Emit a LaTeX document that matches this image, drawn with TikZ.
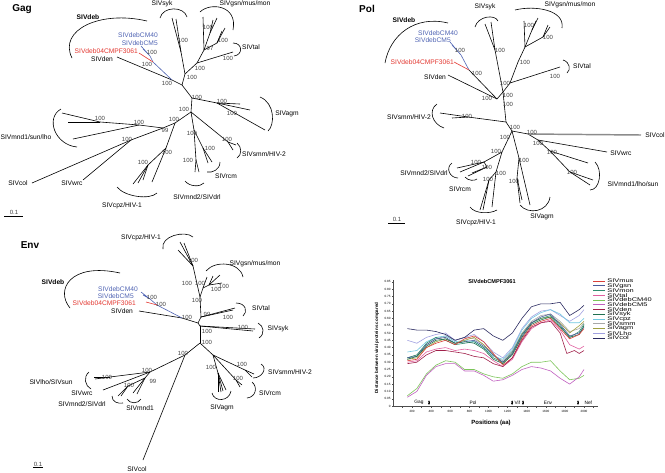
\documentclass[tikz,border=0pt]{standalone}
\usepackage{fontspec}
\setmainfont{Liberation Sans}
\usetikzlibrary{arrows.meta}

\definecolor{debblue}{HTML}{4F63B3}
\definecolor{debred}{HTML}{E2352E}
\definecolor{cmus}{HTML}{D9403A}
\definecolor{cgsn}{HTML}{4A5A9A}
\definecolor{cmon}{HTML}{2E8B6E}
\definecolor{ctal}{HTML}{E060A0}
\definecolor{ccma}{HTML}{7CC45A}
\definecolor{ccmb}{HTML}{C060C0}
\definecolor{cden}{HTML}{A0204A}
\definecolor{csyk}{HTML}{207050}
\definecolor{ccpz}{HTML}{70C8E0}
\definecolor{csmm}{HTML}{A8A8A8}
\definecolor{cagm}{HTML}{A0A040}
\definecolor{clho}{HTML}{A0A0E0}
\definecolor{ccol}{HTML}{2A2A60}

\tikzset{
  br/.style={line width=0.45pt},
  clade/.style={line width=0.45pt},
  lf/.style={font=\fontsize{5}{5}\selectfont, inner sep=0pt},
  lfb/.style={font=\fontsize{5}{5}\selectfont\bfseries, inner sep=0pt},
  bs/.style={font=\fontsize{4.5}{4.5}\selectfont, inner sep=0pt, text=black!75},
  hd/.style={font=\fontsize{7.5}{7.5}\selectfont\bfseries, inner sep=0pt},
  tk/.style={font=\fontsize{2.3}{2.3}\selectfont, inner sep=0.6pt},
  gn/.style={font=\fontsize{3.6}{3.6}\selectfont, inner sep=0pt},
  curve/.style={line width=0.45pt},
  mk/.style={line width=0.35pt,{Latex[length=1.6pt,width=1.6pt]}-{Latex[length=1.6pt,width=1.6pt]}}
}

\begin{document}
\begin{tikzpicture}[x=0.75pt,y=-0.75pt]
\useasboundingbox (0,0) rectangle (665,472);

% Gag
\node[hd] (gagT) at (22,9) {Gag};
\foreach \n/\x/\y in {g0/182/85,gCMa/141/46,gCMb/143/49,gcm/150/56,gred/139/53,gdb/153/62,gdn/172/80,gden/117/57,
  gu1/185/74,gsk/181/52,gsk1/172/18,gsk2/176/19,gu2/197/63,gtal/233/52,gu3/204/50,ggs1/203/17,ggsA/210/33,ggs2/213/20,
  ggs3/217/18,ggsB/217/43,ggs4/225/28,ggs5/222/31,gb/192/98,gag/217/103,gag1/240/104,gag2/250/110,gag3/265/130,
  gc/191/112,gd/175/123,ge/163/128,gmn/139/125,gsn/100/122,gsn1/62/113,gsn2/68/122,gmn1/73/139,gw/131/140,
  gcol/32/183,gwrc/83/180,gcz/166/148,gcz1/152/182,gczm/148/165,gcz2/133/184,gcz3/138/183,gcz4/143/180,
  gm2/194/130,gm2n/196/160,gm21/195/172,gm22/199/172,grc/203/148,grc1/208/163,grc2/212/162,gsm/228/142,gsm1/236/145,gsm2/233/150}
  \coordinate (\n) at (\x,\y);
\foreach \a/\b in {g0/gdn,gden/gdn,g0/gu1,gu1/gsk,gsk/gsk1,gsk/gsk2,gu1/gu2,gu2/gtal,gu2/gu3,gu3/ggs1,gu3/ggsA,ggsA/ggs2,
  ggsA/ggs3,gu3/ggsB,ggsB/ggs4,ggsB/ggs5,g0/gb,gb/gag,gag/gag1,gag/gag2,gag/gag3,gb/gc,gc/gd,gd/ge,ge/gmn,gmn/gsn,
  gsn/gsn1,gsn/gsn2,gmn/gmn1,ge/gw,gw/gcol,gw/gwrc,gd/gcz,gcz/gcz1,gcz/gczm,gczm/gcz2,gczm/gcz3,gczm/gcz4,gc/gm2,
  gm2/gm2n,gm2n/gm21,gm2n/gm22,gm2/grc,grc/grc1,grc/grc2,gc/gsm,gsm/gsm1,gsm/gsm2}
  \draw[br] (\a) -- (\b);
\draw[br,debblue] (gCMa) -- (gcm) (gCMb) -- (gcm) (gcm) -- (gdb) -- (gdn);
\draw[br,debred] (gred) -- (gdb);
\foreach \x/\y/\v [count=\i] in {152/52/100,147/64/100,167/83/100,183/40/100,208/27/100,223/40/100,210/48/97,228/58/100,
  200/68/100,192/77/100,197/97/100,222/101/100,232/113/100,184/109/100,174/119/100,165/130/99,139/122/100,100/118/100,
  127/139/100,143/162/100,167/152/100,192/133/100,188/160/100,210/148/100,227/139/100}
  \node[bs] (gbs\i) at (\x,\y) {\v};
\node[lf] (gsykL) at (162,4) {SIVsyk};
\node[lf] (ggsnL) at (245,4) {SIVgsn/mus/mon};
\node[lf] (gtalL) at (251,47) {SIVtal};
\node[lf] (gagmL) at (287,114) {SIVagm};
\node[lf] (gsmmL) at (264,154) {SIVsmm/HIV-2};
\node[lf] (grcmL) at (226,176) {SIVrcm};
\node[lf] (gmndL) at (197,197) {SIVmnd2/SIVdrl};
\node[lf] (gcpzL) at (122,206) {SIVcpz/HIV-1};
\node[lf] (gcolL) at (18,183) {SIVcol};
\node[lf] (gwrcL) at (72,183) {SIVwrc};
\node[lf] (gsunL) at (26,137) {SIVmnd1/sun/lho};
\node[lf] (gdenL) at (102,59) {SIVden};
\node[lf,anchor=east,text=debred] (gredL) at (138,51) {SIVdeb04CMPF3061};
\node[lf,anchor=east,text=debblue] (gcmaL) at (158,35) {SIVdebCM40};
\node[lf,anchor=east,text=debblue] (gcmbL) at (158,43) {SIVdebCM5};
\node[lfb] (gdebL) at (88,17) {SIVdeb};
\draw[clade] (72,58) .. controls (58,30) and (100,10) .. (147,21);
\draw[clade] (160,18) .. controls (163,6) and (184,6) .. (187,17);
\draw[clade] (200,12) .. controls (210,2) and (238,5) .. (233,30);
\draw[clade] (233,43) .. controls (243,43) and (243,55) .. (234,56);
\draw[clade] (260,97) .. controls (275,103) and (275,125) .. (268,131);
\draw[clade] (237,143) .. controls (242,147) and (242,155) .. (237,158);
\draw[clade] (220,162) .. controls (220,170) and (212,173) .. (207,172);
\draw[clade] (185,181) .. controls (190,187) and (200,187) .. (204,183);
\draw[clade] (117,187) .. controls (125,197) and (150,200) .. (157,193);
\draw[clade] (61,109) .. controls (45,118) and (55,145) .. (77,147);
\draw[br] (4,216) -- (23,216);
\node[bs] (gsc) at (14,212) {0.1};

% Pol
\node[hd] (polT) at (367,9) {Pol};
\foreach \n/\x/\y in {pCMa/450/42,pCMb/452/45,pcm/461/55,pred/454/62,pdb/469/70,pdn/497/99,pden/448/75,p1/503/92,
  psk/495/50,psk1/485/24,psk2/491/22,pg/510/83,ptal/560/67,pgs/518/62,pgA/525/47,pgs1/524/21,pgB/532/30,pgs2/538/18,
  pgs3/536/21,pgC/543/37,pgs4/550/27,pgs5/548/25,p2/506/122,psm/468/117,psm1/440/113,psm2/452/118,p3/512/131,
  pcw/528/134,pcol/641/135,pw/538/140,pwrc/607/152,pmn/550/151,pmn1/588/163,pmn2/570/172,pmn3/593/180,pmn4/590/185,
  p4/502/152,pmr/484/162,pm21/457/168,pm22/460/172,prc/487/167,prc1/472/173,prc2/468/176,pcz/496/172,pcz1/492/207,
  pczm/489/180,pcz2/480/210,pcz3/483/210,pagm/519/158,pag2/517/178,pag1/522/200,pag3/520/203,pag4/530/205}
  \coordinate (\n) at (\x,\y);
\foreach \a/\b in {pden/pdn,pdb/pdn,pdn/p1,p1/psk,psk/psk1,psk/psk2,p1/pg,pg/ptal,pg/pgs,pgs/pgA,pgA/pgs1,pgA/pgB,
  pgB/pgs2,pgB/pgs3,pgA/pgC,pgC/pgs4,pgC/pgs5,p1/p2,p2/psm,psm/psm1,psm/psm2,p2/p3,p3/pcw,pcw/pw,pw/pwrc,pw/pmn,
  pmn/pmn1,pmn/pmn2,pmn2/pmn3,pmn2/pmn4,p3/p4,p4/pmr,pmr/pm21,pmr/pm22,pmr/prc,prc/prc1,prc/prc2,p4/pcz,pcz/pcz1,
  pcz/pczm,pczm/pcz2,pczm/pcz3,p3/pagm,pagm/pag2,pag2/pag1,pag2/pag3,pagm/pag4}
  \draw[br] (\a) -- (\b);
\draw[line width=1.1pt,black!45] (pcw) -- (pcol);
\draw[br,debblue] (pCMa) -- (pcm) (pCMb) -- (pcm) (pcm) -- (pdb);
\draw[br,debred] (pred) -- (pdb);
\foreach \x/\y/\v [count=\i] in {460/50/100,477/73/100,487/98/100,500/50/100,505/83/100,525/62/100,529/25/100,548/37/100,
  555/76/100,508/95/100,508/104/100,467/116/100,515/127/100,505/137/100,532/132/100,538/143/100,552/152/100,572/172/100,
  496/151/100,476/162/100,487/167/100,501/173/100,488/179/100,524/160/100,514/181/100}
  \node[bs] (pbs\i) at (\x,\y) {\v};
\node[lf] (psykL) at (485,7) {SIVsyk};
\node[lf] (pgsnL) at (570,5) {SIVgsn/mus/mon};
\node[lf] (ptalL) at (582,66) {SIVtal};
\node[lf] (psmmL) at (409,117) {SIVsmm/HIV-2};
\node[lf] (pcolL) at (655,135) {SIVcol};
\node[lf] (pwrcL) at (621,153) {SIVwrc};
\node[lf] (pmn1L) at (633,184) {SIVmnd1/lho/sun};
\node[lf] (pmn2L) at (424,173) {SIVmnd2/SIVdrl};
\node[lf] (prcmL) at (460,189) {SIVrcm};
\node[lf] (pcpzL) at (476,223) {SIVcpz/HIV-1};
\node[lf] (pagmL) at (542,217) {SIVagm};
\node[lf] (pdenL) at (435,77) {SIVden};
\node[lf,anchor=east,text=debred] (predL) at (454,62) {SIVdeb04CMPF3061};
\node[lf,anchor=east,text=debblue] (pcmaL) at (458,33) {SIVdebCM40};
\node[lf,anchor=east,text=debblue] (pcmbL) at (451,40) {SIVdebCM5};
\node[lfb] (pdebL) at (404,20) {SIVdeb};
\draw[clade] (385,63) .. controls (390,35) and (415,15) .. (448,23);
\draw[clade] (475,27) .. controls (478,16) and (495,14) .. (498,21);
\draw[clade] (515,10) .. controls (535,5) and (565,10) .. (562,28);
\draw[clade] (563,60) .. controls (570,62) and (571,70) .. (567,73);
\draw[clade] (437,104) .. controls (428,110) and (432,124) .. (444,128);
\draw[clade] (452,163) .. controls (445,168) and (450,178) .. (458,178);
\draw[clade] (465,177) .. controls (468,181) and (475,181) .. (477,179);
\draw[clade] (470,207) .. controls (475,214) and (490,214) .. (497,210);
\draw[clade] (520,205) .. controls (528,215) and (548,212) .. (550,197);
\draw[clade] (595,162) .. controls (603,170) and (600,190) .. (590,190);
\draw[br] (388,223) -- (405,223);
\node[bs] (psc) at (397,219) {0.1};

% Env
\node[hd] (envT) at (30,245) {Env};
\foreach \n/\x/\y in {eCMa/141/292,eCMb/143/295,ecm/150/299,ered/146/302,edb/157/305,edn/182/318,eden/139/311,
  e0/198/323,ecg/200/297,ecz/193/266,ecz1/180/242,ecz2/184/243,ecz3/178/250,eg1/203/288,eg2/209/285,egs1/207/277,
  egs2/213/276,egs3/220/275,egs4/222/283,et/201/317,etal1/235/308,etal2/233/310,esk/200/326,esk1/255/329,esk2/253/331,
  e1/200/343,es/213/355,esm/245/370,esm1/252/377,esm2/254/374,erc/236/380,erc1/240/387,erc2/242/385,eag/218/373,
  eag1/218/392,eag2/221/392,eag3/223/391,eag4/226/390,ec/185/355,ecol/143/460,el/150/372,elh/110/377,elh1/95/379,
  elh2/94/377,ewrc/103/390,emn/145/378,em2/128/386,em21/118/396,em22/121/396,em11/133/393,em12/137/394}
  \coordinate (\n) at (\x,\y);
\foreach \a/\b in {eden/edn,edn/e0,e0/et,et/ecg,ecg/ecz,ecz/ecz1,ecz/ecz2,ecz/ecz3,ecg/eg1,eg1/egs1,eg1/eg2,eg2/egs2,
  eg2/egs3,eg2/egs4,et/etal1,et/etal2,e0/esk,esk/esk1,esk/esk2,esk/e1,e1/es,es/esm,esm/esm1,esm/esm2,es/erc,erc/erc1,
  erc/erc2,es/eag,eag/eag1,eag/eag2,eag/eag3,eag/eag4,e1/ec,ec/ecol,ec/el,el/elh,elh/elh1,elh/elh2,el/ewrc,el/emn,
  emn/em2,em2/em21,em2/em22,emn/em11,emn/em12}
  \draw[br] (\a) -- (\b);
\draw[br,debblue] (eCMa) -- (ecm) (eCMb) -- (ecm) (ecm) -- (edb) -- (edn);
\draw[br,debred] (ered) -- (edb);
\foreach \x/\y/\v [count=\i] in {152/297/100,161/304/100,187/317/100,193/260/100,187/283/100,200/283/100,216/289/100,
  224/286/100,197/300/100,207/314/99,228/317/100,243/327/100,207/331/100,207/342/100,183/353/100,211/367/100,
  242/364/100,238/378/100,147/370/100,153/381/99,107/377/100,129/385/100}
  \node[bs] (ebs\i) at (\x,\y) {\v};
\node[lf] (ecpzL) at (141,238) {SIVcpz/HIV-1};
\node[lf] (egsnL) at (255,264) {SIVgsn/mus/mon};
\node[lf] (etalL) at (261,308) {SIVtal};
\node[lf] (esykL) at (278,329) {SIVsyk};
\node[lf] (esmmL) at (290,372) {SIVsmm/HIV-2};
\node[lf] (ercmL) at (270,393) {SIVrcm};
\node[lf] (eagmL) at (222,408) {SIVagm};
\node[lf] (ecolL) at (137,469) {SIVcol};
\node[lf] (elhoL) at (51,382) {SIVlho/SIVsun};
\node[lf] (ewrcL) at (82,393) {SIVwrc};
\node[lf] (em2L) at (82,404) {SIVmnd2/SIVdrl};
\node[lf] (em1L) at (140,408) {SIVmnd1};
\node[lf] (edenL) at (122,311) {SIVden};
\node[lf,anchor=east,text=debred] (eredL) at (136,303) {SIVdeb04CMPF3061};
\node[lf,anchor=east,text=debblue] (ecmaL) at (138,289) {SIVdebCM40};
\node[lf,anchor=east,text=debblue] (ecmbL) at (134,296) {SIVdebCM5};
\node[lfb] (edebL) at (53,282) {SIVdeb};
\draw[clade] (70,308) .. controls (55,290) and (70,262) .. (120,273);
\draw[clade] (163,249) .. controls (160,236) and (185,230) .. (193,237);
\draw[clade] (206,271) .. controls (215,260) and (240,262) .. (243,277);
\draw[clade] (236,303) .. controls (246,303) and (248,312) .. (243,316);
\draw[clade] (258,323) .. controls (264,326) and (265,334) .. (259,338);
\draw[clade] (261,364) .. controls (268,368) and (262,378) .. (253,378);
\draw[clade] (252,382) .. controls (258,387) and (256,397) .. (247,398);
\draw[clade] (212,393) .. controls (214,402) and (229,402) .. (231,391);
\draw[clade] (89,372) .. controls (83,377) and (85,386) .. (91,389);
\draw[clade] (112,396) .. controls (112,402) and (118,404) .. (123,403);
\draw[clade] (127,399) .. controls (130,404) and (138,404) .. (141,399);
\draw[br] (33,467) -- (43,467);
\node[bs] (esc) at (38,464) {0.1};

% similarity plot
\node[font=\fontsize{4.2}{4.2}\selectfont\bfseries, inner sep=0pt] (ptitle) at (492,281) {SIVdebCMPF3061};
\node[font=\fontsize{4.5}{4.5}\selectfont\bfseries, inner sep=0pt] (pxlab) at (491,423) {Positions (aa)};
\node[font=\fontsize{3.4}{3.4}\selectfont\bfseries, inner sep=0pt, rotate=90] (pylab) at (377,348) {Distance between viral proteins compared};
\begin{scope}[shift={(393,406)},x=0.07163pt,y=109.5pt]
  \draw[line width=0.35pt,black!70] (0,0.86) -- (0,0) -- (2150,0);
  \foreach \k/\t in {0/0,1/0.05,2/0.10,3/0.15,4/0.20,5/0.25,6/0.30,7/0.35,8/0.40,9/0.45,10/0.50,11/0.55,12/0.60,
    13/0.65,14/0.70,15/0.75,16/0.80,17/0.85}{
    \draw[line width=0.25pt,black!70] (0,\k*0.05) -- (-12,\k*0.05);
    \node[tk,anchor=east] (yt\k) at (-14,\k*0.05) {\t};
  }
  \foreach \v in {100,200,...,2100}
    \draw[line width=0.25pt,black!70] (\v,0) -- (\v,-0.012);
  \foreach \v in {200,400,...,2000}
    \node[tk] (xt\v) at (\v,-0.04) {\v};
  \node[gn] (gGag) at (272,0.022) {Gag};
  \node[gn] (gPol) at (838,0.022) {Pol};
  \node[gn] (gVif) at (1302,0.022) {Vif};
  \node[gn] (gEnv) at (1623,0.022) {Env};
  \node[gn] (gNef) at (2045,0.022) {Nef};
  \foreach \m in {377,1247,1361,1937}
    \draw[mk] (\m,0.006) -- (\m,0.040);
  \draw[curve,csmm] plot coordinates {(150,.33) (250,.35) (350,.42) (450,.46) (550,.48) (650,.45) (750,.47) (850,.46) (950,.42) (1050,.35) (1150,.31) (1250,.38) (1350,.50) (1450,.58) (1550,.62) (1650,.63) (1750,.58) (1850,.51) (1950,.53) (2000,.57)};
  \draw[curve,clho] plot coordinates {(150,.45) (250,.43) (350,.47) (450,.49) (550,.50) (650,.45) (750,.47) (850,.49) (950,.44) (1050,.37) (1150,.33) (1250,.40) (1350,.53) (1450,.61) (1550,.65) (1650,.66) (1750,.62) (1850,.58) (1950,.62) (2000,.66)};
  \draw[curve,ccpz] plot coordinates {(150,.37) (250,.38) (350,.44) (450,.47) (550,.48) (650,.44) (750,.45) (850,.44) (950,.40) (1050,.34) (1150,.32) (1250,.39) (1350,.52) (1450,.60) (1550,.64) (1650,.66) (1750,.63) (1850,.57) (1950,.57) (2000,.60)};
  \draw[curve,cagm] plot coordinates {(150,.32) (250,.33) (350,.40) (450,.44) (550,.46) (650,.43) (750,.45) (850,.47) (950,.42) (1050,.35) (1150,.29) (1250,.36) (1350,.49) (1450,.57) (1550,.60) (1650,.61) (1750,.57) (1850,.50) (1950,.55) (2000,.58)};
  \draw[curve,cmon] plot coordinates {(150,.33) (250,.35) (350,.43) (450,.47) (550,.45) (650,.42) (750,.43) (850,.44) (950,.40) (1050,.33) (1150,.30) (1250,.37) (1350,.49) (1450,.57) (1550,.60) (1650,.62) (1750,.55) (1850,.47) (1950,.51) (2000,.56)};
  \draw[curve,cgsn] plot coordinates {(150,.33) (250,.34) (350,.42) (450,.46) (550,.47) (650,.43) (750,.44) (850,.45) (950,.41) (1050,.35) (1150,.30) (1250,.36) (1350,.48) (1450,.57) (1550,.61) (1650,.63) (1750,.56) (1850,.48) (1950,.50) (2000,.54)};
  \draw[curve,csyk] plot coordinates {(150,.32) (250,.34) (350,.41) (450,.45) (550,.46) (650,.43) (750,.44) (850,.43) (950,.39) (1050,.32) (1150,.29) (1250,.35) (1350,.47) (1450,.56) (1550,.59) (1650,.61) (1750,.54) (1850,.47) (1950,.49) (2000,.55)};
  \draw[curve,cmus] plot coordinates {(150,.31) (250,.32) (350,.40) (450,.43) (550,.45) (650,.42) (750,.46) (850,.48) (950,.44) (1050,.36) (1150,.28) (1250,.33) (1350,.46) (1450,.55) (1550,.58) (1650,.60) (1750,.53) (1850,.46) (1950,.49) (2000,.53)};
  \draw[curve,ctal] plot coordinates {(150,.30) (250,.31) (350,.37) (450,.39) (550,.40) (650,.38) (750,.39) (850,.38) (950,.36) (1050,.31) (1150,.27) (1250,.32) (1350,.44) (1450,.53) (1550,.57) (1650,.59) (1750,.52) (1850,.42) (1950,.39) (2000,.41)};
  \draw[curve,cden] plot coordinates {(150,.29) (250,.30) (350,.35) (450,.38) (550,.38) (650,.37) (750,.36) (850,.34) (950,.33) (1050,.29) (1150,.27) (1250,.33) (1350,.45) (1450,.54) (1550,.57) (1650,.58) (1750,.50) (1820,.36) (1900,.38) (1950,.36) (2000,.38)};
  \draw[curve,ccol] plot coordinates {(150,.53) (250,.52) (350,.52) (450,.51) (550,.49) (650,.45) (750,.47) (850,.52) (950,.53) (1050,.48) (1150,.45) (1250,.50) (1350,.60) (1450,.68) (1550,.70) (1650,.70) (1750,.71) (1850,.62) (1950,.66) (2000,.69)};
  \draw[curve,ccma] plot coordinates {(150,.07) (250,.12) (350,.22) (450,.28) (550,.31) (650,.30) (750,.25) (850,.25) (950,.22) (1050,.20) (1150,.19) (1250,.22) (1350,.27) (1450,.30) (1550,.30) (1650,.31) (1750,.24) (1850,.18) (1950,.19) (2000,.21)};
  \draw[curve,ccmb] plot coordinates {(150,.06) (250,.10) (350,.21) (450,.27) (550,.29) (650,.29) (750,.24) (850,.24) (950,.21) (1050,.17) (1150,.18) (1250,.21) (1350,.25) (1450,.27) (1550,.26) (1650,.24) (1750,.19) (1850,.15) (1950,.20) (2000,.25)};
\end{scope}
\foreach \nm/\cl [count=\i from 0] in {SIVmus/cmus,SIVgsn/cgsn,SIVmon/cmon,SIVtal/ctal,SIVdebCM40/ccma,SIVdebCM5/ccmb,
  SIVden/cden,SIVsyk/csyk,SIVcpz/ccpz,SIVsmm/csmm,SIVagm/cagm,SIVLho/clho,SIVcol/ccol}{
  \draw[curve,\cl] (593,281+4.75*\i) -- (605,281+4.75*\i);
  \node[font=\fontsize{4}{4}\selectfont, inner sep=0pt, anchor=west] (lg\i) at (607,281+4.75*\i) {\scalebox{1.4}[1]{\nm}};
}
\end{tikzpicture}
\end{document}
